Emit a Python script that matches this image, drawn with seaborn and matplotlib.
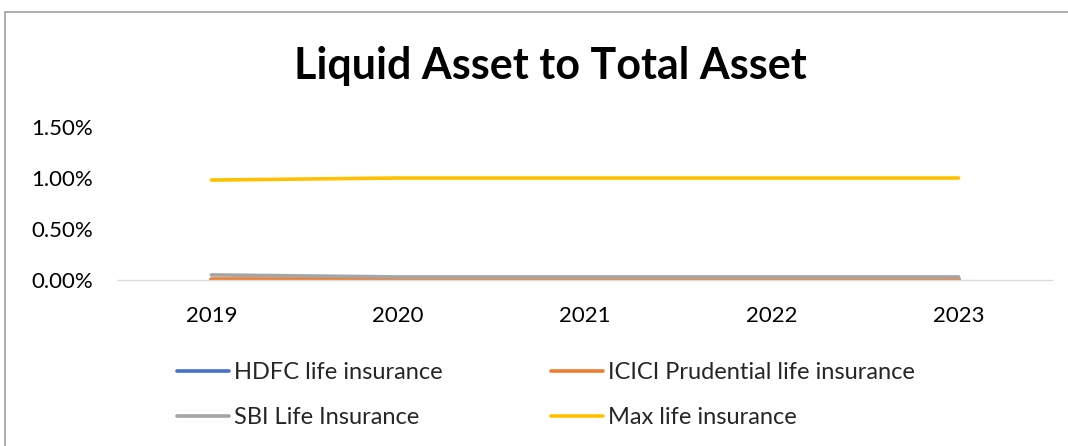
import matplotlib
matplotlib.use("Agg")
import matplotlib.pyplot as plt
import seaborn as sns
import pandas as pd
from matplotlib.patches import Rectangle
from matplotlib.lines import Line2D
from matplotlib.ticker import FuncFormatter

years = ["2019", "2020", "2021", "2022", "2023"]
hdfc = [0.0000, 0.0000, 0.0000, 0.0000, 0.0000]
icici = [0.0001, 0.0001, 0.0001, 0.0001, 0.0001]
sbi = [0.0005, 0.0003, 0.0003, 0.0003, 0.0003]
maxlife = [0.0098, 0.0100, 0.0100, 0.0100, 0.0100]
series_names = ["HDFC life insurance", "ICICI Prudential life insurance",
                "SBI Life Insurance", "Max life insurance"]
colors = ["#4472C4", "#ED7D31", "#A5A5A5", "#FFC000"]

rows = []
for name, vals in zip(series_names, [hdfc, icici, sbi, maxlife]):
    for i, (y, v) in enumerate(zip(years, vals)):
        rows.append({"idx": i, "year": y, "series": name, "value": v})
df = pd.DataFrame(rows)

sns.set_theme(style="white")
plt.rcParams["font.family"] = ["Lato", "DejaVu Sans"]

fig = plt.figure(figsize=(10.68, 4.46), dpi=100)
ax = fig.add_axes([118/1068, 1-280/446, (1052-118)/1068, (280-127)/446])

sns.lineplot(data=df, x="idx", y="value", hue="series", hue_order=series_names,
             palette=colors, linewidth=2.6, ax=ax, legend=False, sort=False)

ax.set_xlim(-0.5, 4.5)
ax.set_ylim(0, 0.015)
ax.set_xticks(range(len(years)))
ax.set_xticklabels(years)
ax.set_yticks([0, 0.005, 0.010, 0.015])
ax.yaxis.set_major_formatter(FuncFormatter(lambda v, p: f"{v*100:.2f}%"))
ax.tick_params(axis="both", labelsize=16, colors="#000000", length=0)
ax.tick_params(axis="x", pad=19)
ax.tick_params(axis="y", pad=18)
ax.set_xlabel("")
ax.set_ylabel("")
for s in ["top", "right", "left"]:
    ax.spines[s].set_visible(False)
ax.spines["bottom"].set_color("#D9D9D9")
ax.spines["bottom"].set_linewidth(1.0)

fig.text(550/1068, 1-66/446, "Liquid Asset to Total Asset", ha="center", va="center",
         fontsize=31, fontweight="bold", color="#000000")

handles = [Line2D([0], [0], color=c, lw=2.6) for c in colors]
order = [0, 2, 1, 3]
fig.legend([handles[i] for i in order], [series_names[i] for i in order],
           ncol=2, loc="upper left", bbox_to_anchor=(168/1068, 1-353/446),
           frameon=False, fontsize=17, handlelength=2.2, handletextpad=0.2,
           columnspacing=4.6, labelspacing=1.0, borderaxespad=0)

fig.patches.append(Rectangle((5/1068, -0.1), 1.2, 1.1-12/446, transform=fig.transFigure,
                             fill=False, edgecolor="#A0A0A0", linewidth=1.2))

fig.savefig("out.png", dpi=100, facecolor="white")
